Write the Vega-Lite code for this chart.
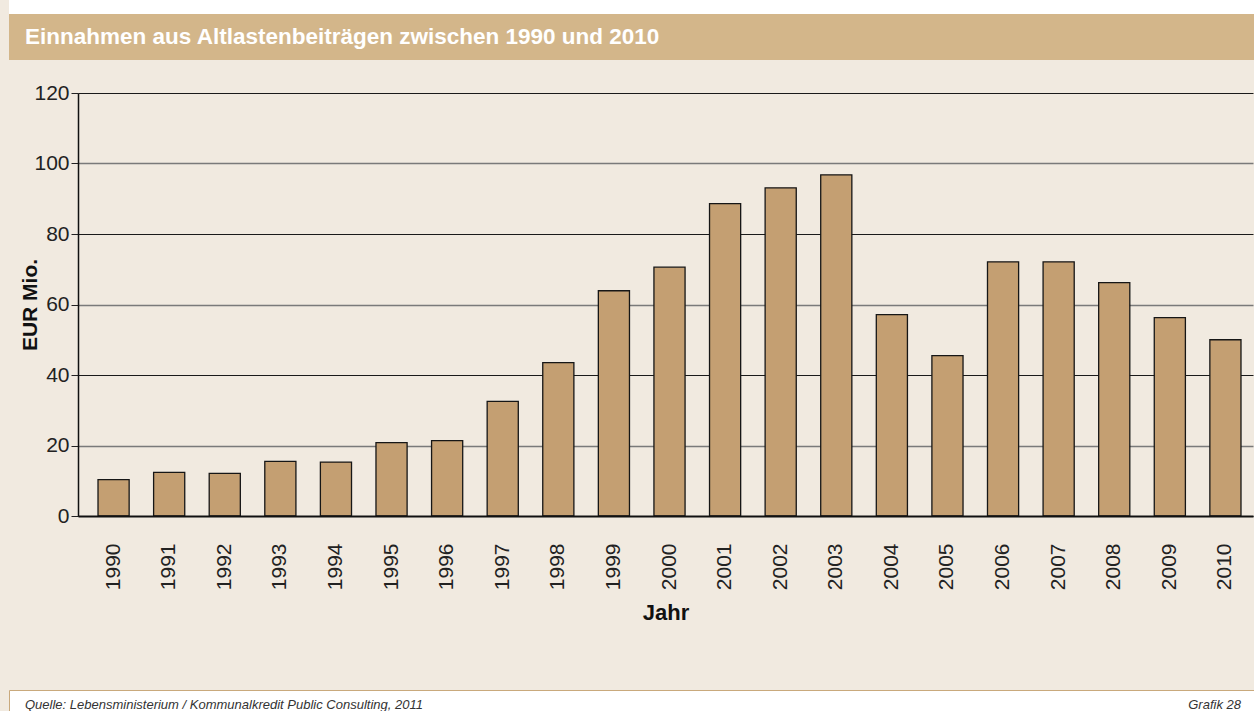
{
  "$schema": "https://vega.github.io/schema/vega-lite/v6.json",
  "background": "#f1eae0",
  "padding": {"left": 8, "top": 0, "right": 0, "bottom": 0},
  "config": {"font": "Liberation Sans", "view": {"stroke": null}},
  "datasets": {
    "einnahmen": [
      {"jahr": "1990", "eur_mio": 10.3},
      {"jahr": "1991", "eur_mio": 12.4},
      {"jahr": "1992", "eur_mio": 12.1},
      {"jahr": "1993", "eur_mio": 15.5},
      {"jahr": "1994", "eur_mio": 15.3},
      {"jahr": "1995", "eur_mio": 20.8},
      {"jahr": "1996", "eur_mio": 21.4},
      {"jahr": "1997", "eur_mio": 32.5},
      {"jahr": "1998", "eur_mio": 43.5},
      {"jahr": "1999", "eur_mio": 63.9},
      {"jahr": "2000", "eur_mio": 70.6},
      {"jahr": "2001", "eur_mio": 88.6},
      {"jahr": "2002", "eur_mio": 93.1},
      {"jahr": "2003", "eur_mio": 96.8},
      {"jahr": "2004", "eur_mio": 57.1},
      {"jahr": "2005", "eur_mio": 45.5},
      {"jahr": "2006", "eur_mio": 72.1},
      {"jahr": "2007", "eur_mio": 72.1},
      {"jahr": "2008", "eur_mio": 66.2},
      {"jahr": "2009", "eur_mio": 56.3},
      {"jahr": "2010", "eur_mio": 50.0}
    ],
    "kopfzeile": [
      {"text": "Einnahmen aus Altlastenbeiträgen zwischen 1990 und 2010", "seite": "links"}
    ],
    "fusszeile": [
      {"text": "Quelle: Lebensministerium / Kommunalkredit Public Consulting, 2011", "seite": "links"},
      {"text": "Grafik 28", "seite": "rechts"}
    ],
    "leer": [{"text": ""}]
  },
  "spacing": 65,
  "vconcat": [
    {
      "spacing": 22,
      "vconcat": [
        {
          "spacing": 0,
          "vconcat": [
            {
              "width": 1246,
              "height": 14,
              "view": {"fill": "#ffffff", "stroke": null},
              "data": {"name": "leer"},
              "mark": {"type": "text"},
              "encoding": {"text": {"field": "text"}}
            },
            {
              "width": 1246,
              "height": 46,
              "view": {"fill": "#d3b68a", "stroke": null},
              "data": {"name": "kopfzeile"},
              "mark": {"type": "text", "align": "left", "baseline": "middle", "dx": 16, "color": "#ffffff", "fontSize": 22.5, "fontWeight": "bold"},
              "encoding": {
                "x": {"field": "seite", "type": "nominal", "scale": {"type": "point", "padding": 0, "align": 0}, "axis": null},
                "text": {"field": "text"}
              }
            }
          ]
        },
        {
          "spacing": 0,
          "bounds": "flush",
          "hconcat": [
            {
              "width": 69,
              "height": 423,
              "data": {"name": "leer"},
              "mark": {"type": "text"},
              "encoding": {"text": {"field": "text"}}
            },
            {
              "width": 1175,
              "height": 423,
              "data": {"name": "einnahmen"},
              "mark": {"type": "bar", "fill": "#c49f72", "stroke": "#161616", "strokeWidth": 1.3},
              "encoding": {
                "x": {
                  "field": "jahr",
                  "type": "ordinal",
                  "scale": {"paddingInner": 0.44, "paddingOuter": 0.288, "align": 0.625},
                  "axis": {
                    "title": "Jahr",
                    "labelAngle": -90,
                    "labelFontSize": 21,
                    "labelColor": "#222222",
                    "labelPadding": 27,
                    "ticks": false,
                    "tickSize": 0,
                    "domainColor": "#111111",
                    "domainWidth": 2,
                    "zindex": 1,
                    "titleFontSize": 22,
                    "titleFontWeight": "bold",
                    "titleColor": "#111111",
                    "titlePadding": 13
                  }
                },
                "y": {
                  "field": "eur_mio",
                  "type": "quantitative",
                  "scale": {"domain": [0, 120]},
                  "axis": {
                    "title": "EUR Mio.",
                    "values": [0, 20, 40, 60, 80, 100, 120],
                    "labelFontSize": 21,
                    "labelColor": "#222222",
                    "labelPadding": 2,
                    "tickSize": 7,
                    "tickColor": "#222222",
                    "domainColor": "#111111",
                    "domainWidth": 1.5,
                    "gridColor": {"condition": {"test": "datum.value % 40 === 0", "value": "#1a1a1a"}, "value": "#7a7a7a"},
                    "gridWidth": {"condition": {"test": "datum.value % 40 === 0", "value": 1.2}, "value": 1.6},
                    "gridOpacity": 1,
                    "titleFontSize": 21,
                    "titleFontWeight": "bold",
                    "titleColor": "#111111",
                    "titlePadding": -7
                  }
                }
              }
            }
          ]
        }
      ]
    },
    {
      "width": 1246,
      "height": 30,
      "view": {"fill": "#ffffff", "stroke": "#c9a97c", "strokeWidth": 1},
      "data": {"name": "fusszeile"},
      "encoding": {
        "x": {"field": "seite", "type": "nominal", "scale": {"type": "point", "padding": 0, "domain": ["links", "rechts"]}, "axis": null},
        "text": {"field": "text"}
      },
      "layer": [
        {
          "transform": [{"filter": "datum.seite === 'links'"}],
          "mark": {"type": "text", "align": "left", "dx": 16, "fontSize": 13, "fontStyle": "italic", "color": "#333333"}
        },
        {
          "transform": [{"filter": "datum.seite === 'rechts'"}],
          "mark": {"type": "text", "align": "right", "dx": -14, "fontSize": 13, "fontStyle": "italic", "color": "#333333"}
        }
      ]
    }
  ]
}
